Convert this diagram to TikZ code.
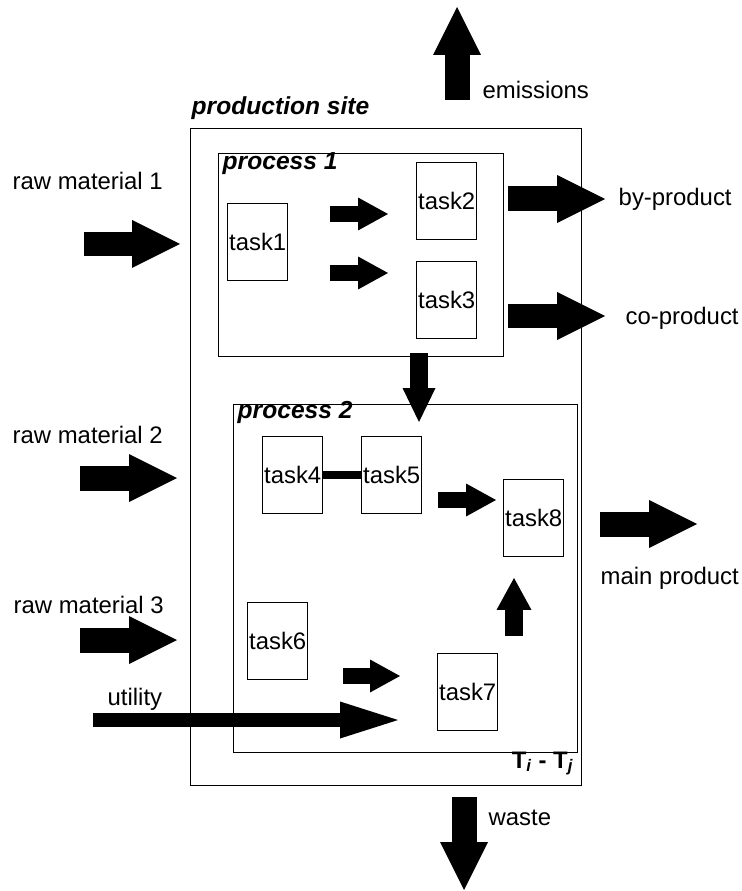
\documentclass[tikz,border=0pt]{standalone}
\usepackage{fontspec}
\setmainfont{Liberation Sans}
\usetikzlibrary{arrows.meta,positioning}

\begin{document}
\begin{tikzpicture}[x=0.02cm, y=-0.02cm, line width=0.8pt,
    every node/.style={font=\fontsize{13.6}{16}\selectfont},
    task/.style={draw, rectangle, minimum width=1.2cm, minimum height=1.54cm, inner sep=0pt, anchor=north west},
    areabox/.style={draw, rectangle, inner sep=0pt, anchor=north west},
    boxtitle/.style={font=\fontsize{14}{16}\selectfont\bfseries\itshape, anchor=base west, inner sep=0pt},
    flowtext/.style={anchor=base west, inner sep=0pt},
    bigflow/.style={line width=0.5cm, -{Triangle[length=0.96cm, width=0.96cm, line width=0pt]}},
    smallflow/.style={line width=0.32cm, -{Triangle[length=0.6cm, width=0.66cm, line width=0pt]}}]
    \useasboundingbox (0,0) rectangle (742,891);

    % site and processes
    \node[areabox, minimum width=7.82cm, minimum height=13.14cm] (site) at (190,128) {};
    \node[areabox, minimum width=5.70cm, minimum height=4.06cm] (proc1) at (218,153) {};
    \node[areabox, minimum width=6.88cm, minimum height=6.96cm] (proc2) at (233,404) {};
    \node[boxtitle] (sitetitle) at (191,115) {production site};
    \node[boxtitle] (proc1title) at (222,170) {process 1};
    \node[boxtitle] (proc2title) at (237,418) {process 2};
    \node[anchor=base east, inner sep=0pt, font=\fontsize{13.6}{16}\selectfont\bfseries] (temps) at (574,768) {T\textsubscript{\itshape i} - T\textsubscript{\itshape j}};

    % tasks
    \node[task] (task1) at (227,203) {task1};
    \node[task] (task2) at (416,162) {task2};
    \node[task] (task3) at (416,261) {task3};
    \node[task] (task4) at (262,436) {task4};
    \node[task] (task5) at (361,436) {task5};
    \node[task] (task6) at (247,602) {task6};
    \node[task] (task7) at (437,653) {task7};
    \node[task] (task8) at (503,479) {task8};
    \draw[line width=0.16cm] (task4) -- (task5);

    % streams in and out
    \node[flowtext] (rm1text) at (12,190) {raw material 1};
    \node[flowtext] (rm2text) at (12,443) {raw material 2};
    \node[flowtext] (rm3text) at (13,613) {raw material 3};
    \node[flowtext] (utiltext) at (107,705) {utility};
    \node[flowtext] (bytext) at (618,206) {by-product};
    \node[flowtext] (cotext) at (625,324) {co-product};
    \node[flowtext] (maintext) at (600,584) {main product};
    \node[flowtext] (emtext) at (482,99) {emissions};
    \node[flowtext] (wastetext) at (488,825) {waste};

    \foreach \name/\xa/\xb/\yy in {rm1/84/180/244, rm2/80/177/478, rm3/80/177/640,
        byp/508/605/199, cop/508/605/316, mainp/600/697/524} {
        \coordinate (\name a) at (\xa,\yy);
        \coordinate (\name b) at (\xb,\yy);
        \draw[bigflow] (\name a) -- (\name b);
    }
    \coordinate (ema) at (457,100);
    \coordinate (emb) at (457,7);
    \draw[bigflow] (ema) -- (emb);
    \coordinate (wastea) at (464,797);
    \coordinate (wasteb) at (464,890);
    \draw[bigflow] (wastea) -- (wasteb);

    % inner flows
    \foreach \name/\xa/\xb/\yy in {t12/330/388/214, t13/330/388/273, t58/438/496/500, t67/343/400/676} {
        \coordinate (\name a) at (\xa,\yy);
        \coordinate (\name b) at (\xb,\yy);
        \draw[smallflow] (\name a) -- (\name b);
    }
    \coordinate (p12a) at (419,353);
    \coordinate (p12b) at (419,422);
    \draw[line width=0.36cm, -{Triangle[length=0.68cm, width=0.66cm, line width=0pt]}] (p12a) -- (p12b);
    \coordinate (t78a) at (514,636);
    \coordinate (t78b) at (514,578);
    \draw[line width=0.36cm, -{Triangle[length=0.64cm, width=0.7cm, line width=0pt]}] (t78a) -- (t78b);
    \coordinate (utila) at (93,720);
    \coordinate (utilb) at (398,720);
    \draw[line width=0.28cm, -{Triangle[length=1.16cm, width=0.74cm, line width=0pt]}] (utila) -- (utilb);
\end{tikzpicture}
\end{document}
